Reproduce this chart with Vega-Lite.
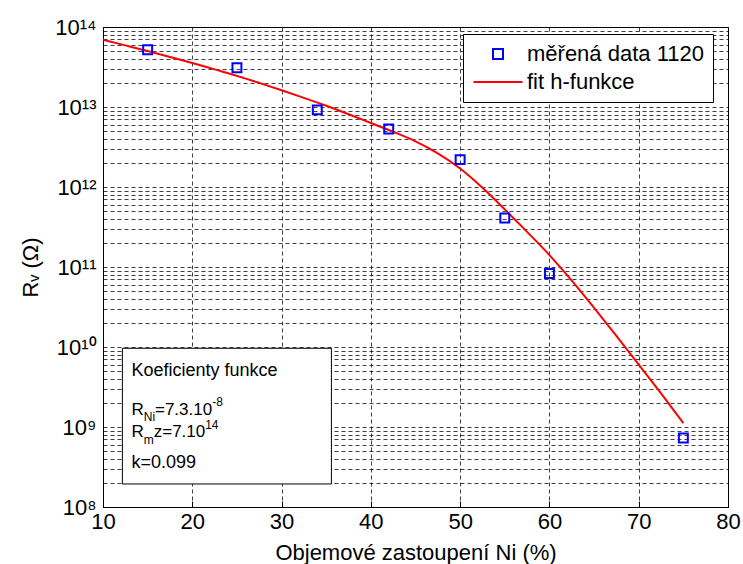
{
  "$schema": "https://vega.github.io/schema/vega-lite/v6.json",
  "width": 625,
  "height": 480,
  "autosize": {"type": "none"},
  "padding": {"left": 103, "top": 27, "right": 15, "bottom": 57},
  "background": "white",
  "datasets": {
    "meas": [
      {"series": "měřená data 1120", "ni": 15, "rv": 5.2e13},
      {"series": "měřená data 1120", "ni": 25, "rv": 3.1e13},
      {"series": "měřená data 1120", "ni": 34, "rv": 9.2e12},
      {"series": "měřená data 1120", "ni": 42, "rv": 5.3e12},
      {"series": "měřená data 1120", "ni": 50, "rv": 2.2e12},
      {"series": "měřená data 1120", "ni": 55, "rv": 4.1e11},
      {"series": "měřená data 1120", "ni": 60, "rv": 8.3e10},
      {"series": "měřená data 1120", "ni": 75, "rv": 7.3e8}
    ],
    "fit": [
      {"series": "fit h-funkce", "ni": 10, "rv": 6.92e13},
      {"series": "fit h-funkce", "ni": 12.5, "rv": 5.89e13},
      {"series": "fit h-funkce", "ni": 15, "rv": 5.01e13},
      {"series": "fit h-funkce", "ni": 17.5, "rv": 4.22e13},
      {"series": "fit h-funkce", "ni": 20, "rv": 3.55e13},
      {"series": "fit h-funkce", "ni": 22.5, "rv": 2.95e13},
      {"series": "fit h-funkce", "ni": 25, "rv": 2.45e13},
      {"series": "fit h-funkce", "ni": 27.5, "rv": 2.0e13},
      {"series": "fit h-funkce", "ni": 30, "rv": 1.62e13},
      {"series": "fit h-funkce", "ni": 32.5, "rv": 1.3e13},
      {"series": "fit h-funkce", "ni": 35, "rv": 1.035e13},
      {"series": "fit h-funkce", "ni": 37.5, "rv": 8.13e12},
      {"series": "fit h-funkce", "ni": 40, "rv": 6.31e12},
      {"series": "fit h-funkce", "ni": 42.5, "rv": 4.9e12},
      {"series": "fit h-funkce", "ni": 45, "rv": 3.72e12},
      {"series": "fit h-funkce", "ni": 47.5, "rv": 2.63e12},
      {"series": "fit h-funkce", "ni": 50, "rv": 1.7e12},
      {"series": "fit h-funkce", "ni": 52.5, "rv": 9.77e11},
      {"series": "fit h-funkce", "ni": 55, "rv": 5.25e11},
      {"series": "fit h-funkce", "ni": 57.5, "rv": 2.75e11},
      {"series": "fit h-funkce", "ni": 60, "rv": 1.41e11},
      {"series": "fit h-funkce", "ni": 62.5, "rv": 6.76e10},
      {"series": "fit h-funkce", "ni": 65, "rv": 3.09e10},
      {"series": "fit h-funkce", "ni": 67.5, "rv": 1.38e10},
      {"series": "fit h-funkce", "ni": 70, "rv": 6.03e9},
      {"series": "fit h-funkce", "ni": 72.5, "rv": 2.63e9},
      {"series": "fit h-funkce", "ni": 75, "rv": 1.12e9}
    ]
  },
  "layer": [
    {
      "data": {"name": "fit"},
      "mark": {"type": "line", "strokeWidth": 2, "interpolate": "monotone"},
      "encoding": {
        "x": {"field": "ni", "type": "quantitative", "scale": {"domain": [10, 80], "nice": false, "zero": false},
          "axis": {"title": "Objemové zastoupení Ni (%)", "values": [10, 20, 30, 40, 50, 60, 70, 80], "grid": true, "tickSize": -6, "labelPadding": 10, "titlePadding": 10, "labelFlush": false, "labelOverlap": false}},
        "y": {"field": "rv", "type": "quantitative", "scale": {"type": "log", "domain": [1e8, 1e14], "nice": false},
          "axis": {"title": "Rᵥ (Ω)", "ticks": false, "labelPadding": 7, "titlePadding": 12, "labelFlush": false, "labelOverlap": false,
            "values": [1e8,2e8,3e8,4e8,5e8,6e8,7e8,8e8,9e8,1e9,2e9,3e9,4e9,5e9,6e9,7e9,8e9,9e9,1e10,2e10,3e10,4e10,5e10,6e10,7e10,8e10,9e10,1e11,2e11,3e11,4e11,5e11,6e11,7e11,8e11,9e11,1e12,2e12,3e12,4e12,5e12,6e12,7e12,8e12,9e12,1e13,2e13,3e13,4e13,5e13,6e13,7e13,8e13,9e13,1e14],
            "labelExpr": "datum.value == 1e8 ? '10⁸' : datum.value == 1e9 ? '10⁹' : datum.value == 1e10 ? '10¹⁰' : datum.value == 1e11 ? '10¹¹' : datum.value == 1e12 ? '10¹²' : datum.value == 1e13 ? '10¹³' : datum.value == 1e14 ? '10¹⁴' : ''"}},
        "color": {"field": "series", "type": "nominal",
          "scale": {"domain": ["měřená data 1120", "fit h-funkce"], "range": ["#0000ff", "#ff0000"]},
          "legend": {"title": null, "orient": "none", "legendX": 360, "legendY": 7,
            "padding": 9, "rowPadding": 6, "symbolSize": 400, "symbolOffset": 15, "labelOffset": 18, "labelLimit": 400,
            "labelFontSize": 22, "labelColor": "black", "strokeColor": "black", "fillColor": "white",
            "encode": {"symbols": {"update": {
              "shape": {"signal": "datum.value === 'fit h-funkce' ? 'M-2.45,0H2.45' : 'square'"},
              "size": {"signal": "datum.value === 'fit h-funkce' ? 400 : 100"},
              "stroke": {"signal": "datum.value === 'fit h-funkce' ? '#ff0000' : '#0000ff'"},
              "fill": {"value": "transparent"},
              "strokeWidth": {"value": 2},
              "opacity": {"value": 1}
            }}}}}
      }
    },
    {
      "data": {"name": "meas"},
      "mark": {"type": "point", "shape": "square", "filled": false, "size": 80, "strokeWidth": 2, "opacity": 1},
      "encoding": {
        "x": {"field": "ni", "type": "quantitative"},
        "y": {"field": "rv", "type": "quantitative"},
        "color": {"field": "series", "type": "nominal"}
      }
    },
    {
      "data": {"values": [{}]},
      "mark": {"type": "rect", "fill": "white", "stroke": "black", "strokeWidth": 1},
      "encoding": {
        "x": {"datum": 12.17, "type": "quantitative"}, "x2": {"datum": 35.58},
        "y": {"datum": 9.64e9, "type": "quantitative"}, "y2": {"datum": 1.94e8}
      }
    },
    {
      "data": {"values": [{}]},
      "mark": {"type": "text", "text": "Koeficienty funkce", "align": "left", "baseline": "middle", "fontSize": 18, "color": "black"},
      "encoding": {"x": {"datum": 13.18, "type": "quantitative"}, "y": {"datum": 5.0e9, "type": "quantitative"}}
    },
    {
      "data": {"values": [{}]},
      "mark": {"type": "text", "text": "R", "align": "left", "baseline": "middle", "fontSize": 17, "color": "black"},
      "encoding": {"x": {"datum": 13.18, "type": "quantitative"}, "y": {"datum": 1.63e9, "type": "quantitative"}}
    },
    {
      "data": {"values": [{}]},
      "mark": {"type": "text", "text": "Ni", "align": "left", "baseline": "middle", "fontSize": 12, "color": "black"},
      "encoding": {"x": {"datum": 14.56, "type": "quantitative"}, "y": {"datum": 1.33e9, "type": "quantitative"}}
    },
    {
      "data": {"values": [{}]},
      "mark": {"type": "text", "text": "=7.3.10", "align": "left", "baseline": "middle", "fontSize": 17, "color": "black"},
      "encoding": {"x": {"datum": 15.82, "type": "quantitative"}, "y": {"datum": 1.63e9, "type": "quantitative"}}
    },
    {
      "data": {"values": [{}]},
      "mark": {"type": "text", "text": "-8", "align": "left", "baseline": "middle", "fontSize": 12, "color": "black"},
      "encoding": {"x": {"datum": 22.23, "type": "quantitative"}, "y": {"datum": 2.05e9, "type": "quantitative"}}
    },
    {
      "data": {"values": [{}]},
      "mark": {"type": "text", "text": "R", "align": "left", "baseline": "middle", "fontSize": 17, "color": "black"},
      "encoding": {"x": {"datum": 13.18, "type": "quantitative"}, "y": {"datum": 8.74e8, "type": "quantitative"}}
    },
    {
      "data": {"values": [{}]},
      "mark": {"type": "text", "text": "m", "align": "left", "baseline": "middle", "fontSize": 12, "color": "black"},
      "encoding": {"x": {"datum": 14.56, "type": "quantitative"}, "y": {"datum": 6.88e8, "type": "quantitative"}}
    },
    {
      "data": {"values": [{}]},
      "mark": {"type": "text", "text": "z=7.10", "align": "left", "baseline": "middle", "fontSize": 17, "color": "black"},
      "encoding": {"x": {"datum": 15.68, "type": "quantitative"}, "y": {"datum": 8.74e8, "type": "quantitative"}}
    },
    {
      "data": {"values": [{}]},
      "mark": {"type": "text", "text": "14", "align": "left", "baseline": "middle", "fontSize": 12, "color": "black"},
      "encoding": {"x": {"datum": 21.44, "type": "quantitative"}, "y": {"datum": 1.06e9, "type": "quantitative"}}
    },
    {
      "data": {"values": [{}]},
      "mark": {"type": "text", "text": "k=0.099", "align": "left", "baseline": "middle", "fontSize": 18, "color": "black"},
      "encoding": {"x": {"datum": 13.18, "type": "quantitative"}, "y": {"datum": 3.52e8, "type": "quantitative"}}
    }
  ],
  "config": {
    "font": "Liberation Sans",
    "view": {"stroke": "black", "strokeWidth": 1},
    "axis": {
      "labelFontSize": 22, "titleFontSize": 22, "titleFontWeight": "normal",
      "labelColor": "black", "titleColor": "black", "domainColor": "black", "tickColor": "black",
      "gridColor": "#000000", "gridDash": [4, 3], "gridOpacity": 0.75, "gridWidth": 1
    },
    "legend": {"labelFont": "Liberation Sans"}
  }
}
